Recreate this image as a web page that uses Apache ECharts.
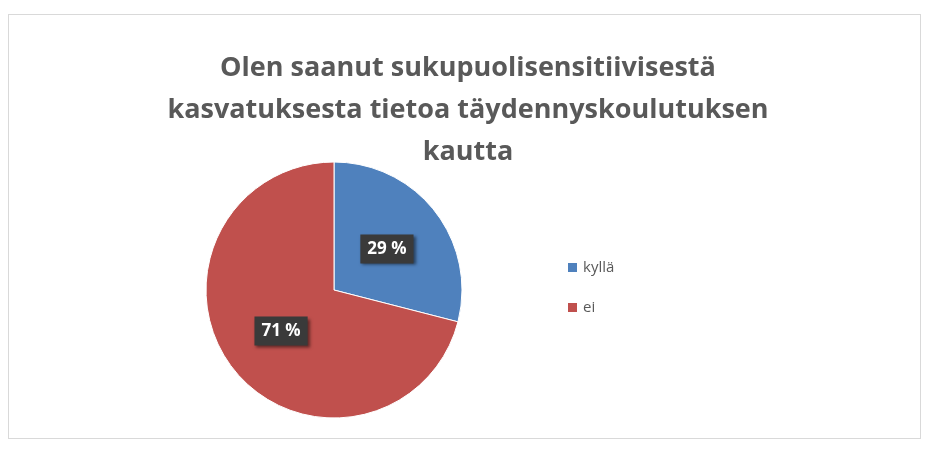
<!DOCTYPE html>
<html><head><meta charset="utf-8">
<script src="https://cdn.jsdelivr.net/npm/echarts@6/dist/echarts.min.js"></script>
<style>html,body{margin:0;padding:0;background:#fff}#c{width:929px;height:459px}
#b{position:absolute;left:8px;top:14px;width:911px;height:423px;border:1px solid #d9d9d9;pointer-events:none}</style>
</head><body><div id="c"></div><div id="b"></div>
<script>
const titleLines = ['Olen saanut sukupuolisensitiivisestä','kasvatuksesta tietoa täydennyskoulutuksen','kautta'];
const categories = ['kyllä','ei'];
const values = [29, 71];
const colors = ['#4f81bd','#c0504d'];
const chart = echarts.init(document.getElementById('c'));
chart.setOption({
  animation:false,
  title:{text:titleLines.join('\n'),left:463,top:42,textAlign:'center',
    textStyle:{fontFamily:'Open Sans',fontWeight:'bold',fontSize:27,color:'#595959',lineHeight:42}},
  legend:{orient:'vertical',left:561,top:255,itemWidth:11,itemHeight:11,itemGap:25,icon:'rect',
    textStyle:{fontFamily:'Open Sans',fontSize:15,color:'#595959'},data:categories},
  series:[{type:'pie',center:[334,290],radius:128,startAngle:90,clockwise:true,
    data:categories.map((c,i)=>({name:c,value:values[i],itemStyle:{color:colors[i]}})),
    itemStyle:{borderColor:'#fff',borderWidth:1},
    label:{position:'inside',formatter:p=>p.value+' %',fontFamily:'Open Sans',fontWeight:'bold',fontSize:17,
      color:'#fff',backgroundColor:'#3a3a3a',padding:[6,7],shadowColor:'rgba(0,0,0,0.5)',shadowBlur:3,shadowOffsetX:2,shadowOffsetY:2},
    labelLine:{show:false}}]
});
</script></body></html>
